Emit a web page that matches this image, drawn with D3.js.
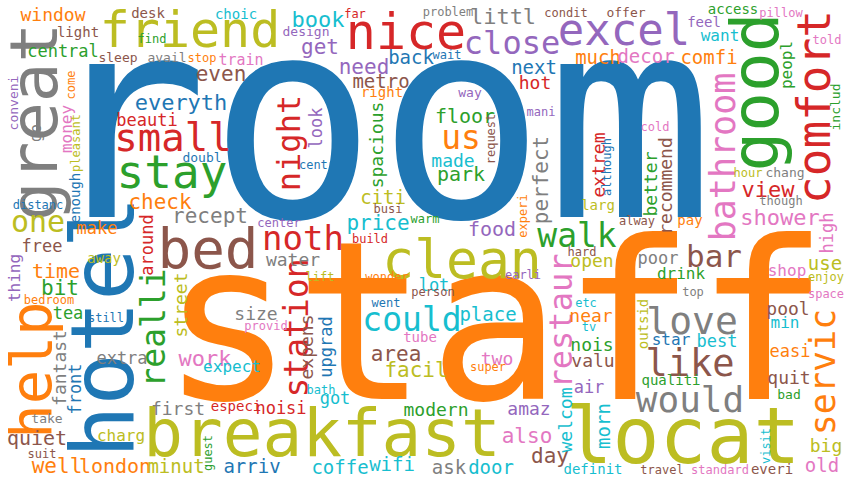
<!DOCTYPE html>
<html>
<head>
<meta charset="utf-8">
<title>Hotel reviews word cloud</title>
<style>
	body { margin: 0; background: #ffffff; }
	#cloud text { font-family: "DejaVu Sans Mono", monospace; }
</style>
</head>
<body>
<div id="cloud"></div>
<script src="https://cdn.jsdelivr.net/npm/d3@7"></script>
<script>
	// words of the cloud, in drawing order
	var words = [
		'room','staff','breakfast','locat','hotel','help','great','friend','good','comfort',
		'excel','nice','close','clean','bed','small','stay','everyth','realli','station',
		'could','restaur','servic','love','like','would','bathroom','walk','bar','noth',
		'night','us','one','check','recept','beauti','even','central','window','light',
		'desk','choic','find','sleep','avail','stop','train','conveni','come','money',
		'go','pleasant','enough','distanc','make','doubl','center','free','around','water',
		'lift','street','size','provid','thing','time','bit','bedroom','tea','away',
		'still','fantast','extra','front','take','quiet','suit','well','london','charg',
		'minut','guest','arriv','first','especi','noisi','work','expect','coffe','wifi',
		'ask','door','day','also','amaz','modern','got','bath','expens','upgrad',
		'place','lot','wonder','person','went','earli','tube','area','facil','two',
		'super','welcom','hard','open','poor','drink','top','use','shop','enjoy',
		'space','high','etc','near','tv','nois','valu','air','morn','definit',
		'travel','standard','everi','old','big','visit','bad','quit','easi','min',
		'pool','star','best','outsid','qualiti','condit','offer','access','pillow','feel',
		'want','told','much','decor','comfi','peopl','includ','cold','extrem','although',
		'larg','better','recommend','alway','pay','view','hour','chang','though','shower',
		'next','hot','way','mani','floor','request','made','park','perfect','experi',
		'food','book','far','design','problem','littl','get','back','wait','need',
		'metro','right','look','centr','spacious','citi','busi','price','warm','build'
	];

	// relative weight of each word (drives the font size)
	var weights = [
		280,222,66,78,87,57,66,50,66,46,
		44,50,32,53,56,39,46,22,33,33,
		33,32,35,38,37,36,35,33,31,34,
		32,33,30,21,21,17,21,17,18,14,
		14,14,12,13,13,12,15,13,12,16,
		15,12,14,12,17,13,12,17,17,18,
		12,18,18,12,16,20,21,12,17,14,
		12,18,17,17,13,20,12,21,20,16,
		19,12,19,18,14,17,22,16,19,19,
		19,19,21,21,18,18,17,12,18,17,
		19,17,12,12,12,12,14,21,21,18,
		12,18,12,18,17,16,12,19,16,12,
		12,17,12,18,12,18,18,17,19,14,
		12,12,14,19,18,12,13,18,17,16,
		18,16,17,14,14,12,13,14,12,14,
		16,12,19,19,19,16,13,12,18,12,
		14,18,18,12,14,22,12,13,12,22,
		19,18,13,12,20,12,18,20,21,12,
		20,22,12,13,12,22,21,19,12,21,
		19,14,17,12,18,19,12,21,12,12
	];

	// colour group of each word
	var groups = [
		'B','O','L','L','B','O','Y','L','G','R',
		'P','R','P','L','N','R','G','B','G','R',
		'C','K','O','Y','N','Y','K','G','N','R',
		'R','O','L','O','Y','R','N','G','O','N',
		'N','C','G','N','Y','O','K','P','O','K',
		'Y','L','B','B','O','B','P','N','R','Y',
		'L','L','Y','K','P','O','G','O','G','L',
		'B','Y','Y','B','Y','N','N','O','O','L',
		'L','G','B','Y','R','R','K','C','C','C',
		'Y','C','N','K','P','G','C','C','N','B',
		'C','C','O','N','B','P','K','N','L','K',
		'O','C','N','L','Y','G','Y','L','K','L',
		'K','K','C','O','C','G','N','P','C','C',
		'N','K','N','K','L','C','G','N','O','C',
		'N','B','C','L','G','N','N','G','K','P',
		'C','K','O','K','O','G','G','K','R','B',
		'L','G','N','N','O','R','L','Y','Y','K',
		'B','R','P','P','G','N','C','G','Y','O',
		'P','C','R','P','Y','Y','P','B','B','P',
		'N','O','P','B','G','L','N','C','G','R'
	];

	// 1 = word set vertically, read bottom to top
	var vertical = [
		0,0,0,0,1,1,1,0,1,1,
		0,0,0,0,0,0,0,0,1,1,
		0,1,1,0,0,0,1,0,0,0,
		1,0,0,0,0,0,0,0,0,0,
		0,0,0,0,0,0,0,1,1,1,
		1,1,1,0,0,0,0,0,1,0,
		0,1,0,0,1,0,0,0,0,0,
		0,1,0,1,0,0,0,0,0,0,
		0,1,0,0,0,0,0,0,0,0,
		0,0,0,0,0,0,0,0,1,1,
		0,0,0,0,0,0,0,0,0,0,
		0,1,0,0,0,0,0,0,0,0,
		0,1,0,0,0,0,0,0,1,0,
		0,0,0,0,0,1,0,0,0,0,
		0,0,0,1,0,0,0,0,0,0,
		0,0,0,0,0,1,1,0,1,1,
		0,1,1,0,0,0,0,0,0,0,
		0,0,0,0,0,1,0,0,1,1,
		0,0,0,0,0,0,0,0,0,0,
		0,0,1,0,1,0,0,0,0,0
	];

	// place of each word in the cloud grid (851 x 485 units):
	// horizontal words -> middle of the word, baseline
	// vertical words   -> baseline, middle of the word
	var cloudX = [
		377,495,322,683,133,51,57,190,778,830,
		624,406,512,462,208,173,172,181,165,308,
		412,572,835,692,690,690,735,577,714,303,
		300,461,38,160,210,147,221,63,53,78,
		148,236,152,118,167,202,241,18,75,72,
		41,80,80,38,97,202,279,42,153,293,
		320,187,256,266,20,56,60,49,68,104,
		106,66,122,81,47,37,42,57,115,121,
		176,212,252,178,236,281,205,232,340,392,
		449,491,550,527,529,436,335,321,313,332,
		488,434,387,433,386,523,420,396,416,497,
		488,572,582,592,658,681,693,825,787,826,
		826,833,586,591,589,592,593,589,610,593,
		662,720,772,822,826,770,789,789,790,785,
		788,671,717,648,671,566,626,733,781,704,
		720,827,598,646,709,792,840,655,605,611,
		598,657,672,637,690,768,748,785,781,780,
		534,535,470,541,465,495,453,461,548,527,
		492,318,355,306,448,503,320,411,447,364,
		381,382,322,317,383,383,388,378,425,370
	];
	var cloudY = [
		217,399,456,463,327,370,122,47,92,107,
		45,49,54,278,268,151,188,110,328,328,
		331,321,372,334,376,412,157,247,267,250,
		143,149,232,209,223,126,81,57,21,37,
		18,19,43,62,62,62,65,103,85,129,
		133,143,198,209,234,162,227,252,245,266,
		281,305,320,330,278,278,295,304,319,263,
		322,368,364,389,423,445,458,473,473,441,
		473,453,473,415,411,414,366,372,474,471,
		474,474,463,443,415,416,404,394,347,347,
		321,291,281,296,307,279,342,361,377,365,
		371,420,256,267,264,279,296,270,276,281,
		298,233,307,322,331,351,367,393,426,474,
		474,474,474,472,452,446,399,384,357,328,
		315,345,347,324,385,17,17,14,17,27,
		41,44,64,63,64,65,107,131,165,167,
		210,184,186,225,225,197,177,177,205,225,
		74,89,97,116,123,139,167,181,180,216,
		236,27,18,36,16,24,54,64,59,74,
		88,97,128,169,145,204,213,230,223,243
	];

	var groupNames = ['B','O','G','R','P','N','K','Y','L','C'];

	var width = 851,
		height = 485;

	var x = d3.scaleLinear().domain([0, 851]).range([0, width]),
		y = d3.scaleLinear().domain([0, 485]).range([0, height]),
		size = d3.scaleLinear().domain([0, 280]).range([0, 280]),
		colour = d3.scaleOrdinal().domain(groupNames).range(d3.schemeCategory10);

	var data = words.map(function(w, i) {
		return { text: w, weight: weights[i], group: groups[i], vertical: vertical[i], cx: cloudX[i], cy: cloudY[i] };
	});

	var svg = d3.select('#cloud').append('svg')
		.attr('width', width)
		.attr('height', height);

	svg.append('rect')
		.attr('width', width)
		.attr('height', height)
		.attr('fill', 'white');

	svg.selectAll('text.word')
		.data(data)
		.enter()
		.append('text')
		.attr('class', 'word')
		.attr('text-anchor', 'middle')
		.attr('transform', function(d) {
			return 'translate(' + x(d.cx) + ',' + y(d.cy) + ')' + (d.vertical ? ' rotate(-90)' : '');
		})
		.style('font-size', function(d) { return size(d.weight) + 'px'; })
		.style('fill', function(d) { return colour(d.group); })
		.text(function(d) { return d.text; });
</script>
</body>
</html>
